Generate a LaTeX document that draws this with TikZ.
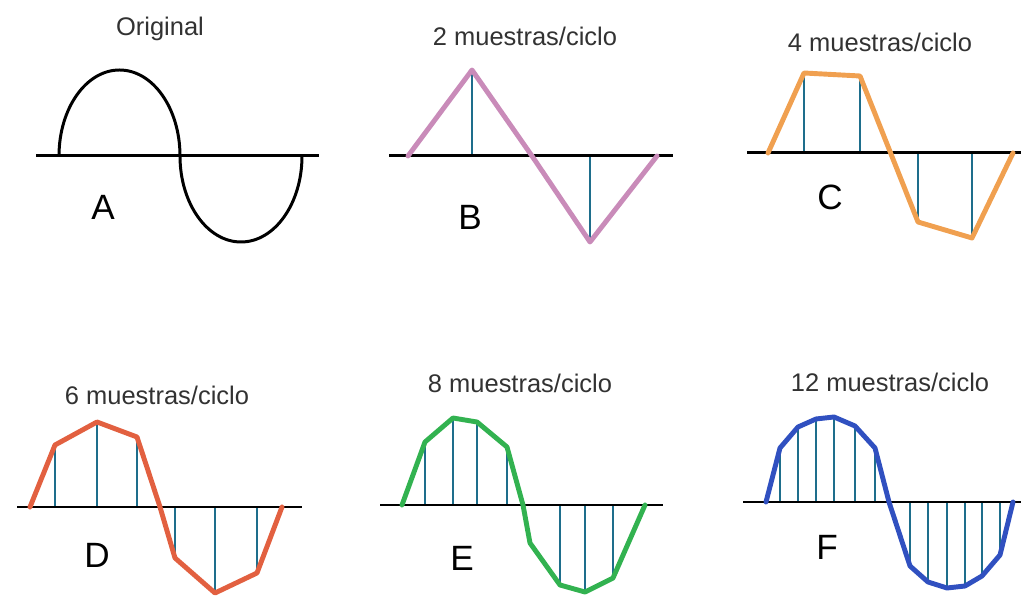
\documentclass[tikz,border=0pt]{standalone}
\usepackage{fontspec}
\setmainfont{Liberation Sans}
\usepackage{tikz}
\usetikzlibrary{positioning}

\definecolor{wavepink}{RGB}{201,139,185}
\definecolor{waveorange}{RGB}{240,160,80}
\definecolor{wavered}{RGB}{226,96,64}
\definecolor{wavegreen}{RGB}{50,178,80}
\definecolor{waveblue}{RGB}{48,80,192}
\definecolor{stemteal}{RGB}{30,110,140}
\definecolor{titlegray}{RGB}{50,50,50}

\begin{document}
\begin{tikzpicture}[x=0.02cm,y=0.02cm,
		axisline/.style={line width=1.7pt,black},
		stemline/.style={line width=0.6pt,stemteal},
		wave/.style={line width=2.8pt,line join=round,line cap=round},
		title/.style={font=\fontsize{14.5}{17}\selectfont,text=titlegray,inner sep=1pt},
		letter/.style={font=\fontsize{20}{24}\selectfont,inner sep=1pt}]
		\useasboundingbox (0,0) rectangle (1021,598);

		% A: original signal
		\draw[axisline] (36,442) -- (319,442);
		\draw[line width=1.7pt] (59,442) arc[start angle=180,end angle=0,x radius=60.5,y radius=86]
			arc[start angle=180,end angle=360,x radius=61,y radius=86];
		\node[title] (titA) at (160,569) {Original};
		\node[letter] (lblA) at (103,391) {A};

		% B: 2 samples
		\foreach \x/\y in {472/528,590/356}
			\draw[stemline] (\x,442) -- (\x,\y);
		\draw[axisline] (389,442) -- (673,442);
		\draw[wave,wavepink] (408,442) -- (472,528) -- (532,442) -- (590,356) -- (657,442);
		\node[title] (titB) at (525,562) {2 muestras/ciclo};
		\node[letter] (lblB) at (470,381) {B};

		% C: 4 samples
		\foreach \x/\y in {804/525,860/522,918/376,972/360}
			\draw[stemline] (\x,445) -- (\x,\y);
		\draw[axisline] (747,445) -- (1021,445);
		\draw[wave,waveorange] (768,445) -- (804,525) -- (860,522) -- (918,376) -- (972,360) -- (1013,445);
		\node[title] (titC) at (880,556) {4 muestras/ciclo};
		\node[letter] (lblC) at (830,401) {C};

		% D: 6 samples
		\foreach \x/\y in {55/153,97/176,137/161,175/40,215/5,257/25}
			\draw[stemline] (\x,91) -- (\x,\y);
		\draw[axisline] (17,91) -- (302,91);
		\draw[wave,wavered] (30,91) -- (55,153) -- (97,176) -- (137,161) -- (160,91)
			-- (175,40) -- (215,5) -- (257,25) -- (282,91);
		\node[title] (titD) at (157,203) {6 muestras/ciclo};
		\node[letter] (lblD) at (97,43) {D};

		% E: 8 samples
		\foreach \x/\y in {425/156,453/180,477/176,507/151,560/13,585/6,613/20}
			\draw[stemline] (\x,93) -- (\x,\y);
		\draw[axisline] (380,93) -- (663,93);
		\draw[wave,wavegreen] (402,93) -- (425,156) -- (453,180) -- (477,176) -- (507,151) -- (523,93)
			-- (530,55) -- (560,13) -- (585,6) -- (613,20) -- (645,93);
		\node[title] (titE) at (520,215) {8 muestras/ciclo};
		\node[letter] (lblE) at (462,40) {E};

		% F: 12 samples
		\foreach \x/\h in {780/54,798/75,816/83,834/85,855/76,875/54,910/-64,928/-80,947/-86,965/-84,982/-74,1000/-53}
			\draw[stemline] (\x,96) -- ++(0,\h);
		\draw[axisline] (743,96) -- (1021,96);
		\draw[wave,waveblue] (766,96) \foreach \x/\h in {780/54,798/75,816/83,834/85,855/76,875/54,889/0,910/-64,928/-80,947/-86,965/-84,982/-74,1000/-53} {-- (\x,96+\h)} -- (1013,96);
		\node[title] (titF) at (890,216) {12 muestras/ciclo};
		\node[letter] (lblF) at (827,51) {F};
	\end{tikzpicture}
\end{document}
